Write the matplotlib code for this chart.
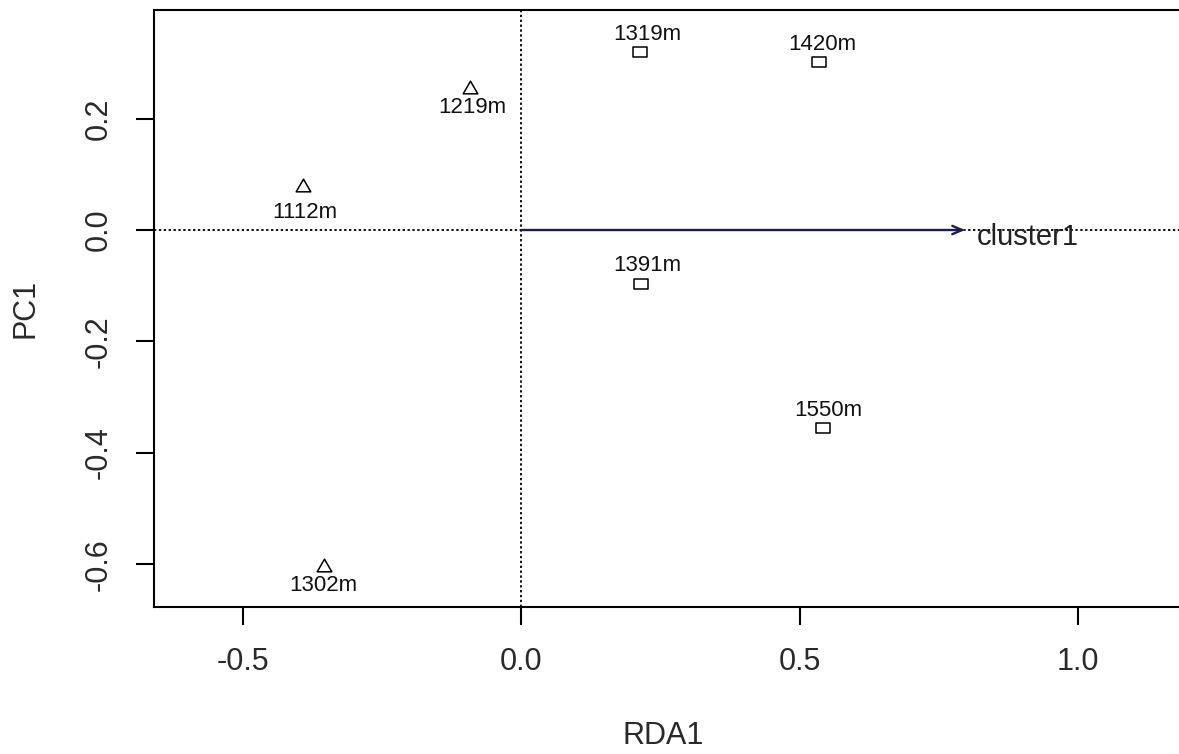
import matplotlib
matplotlib.use("Agg")
import matplotlib.pyplot as plt
from matplotlib.path import Path

plt.rcParams["font.family"] = ["Liberation Sans", "DejaVu Sans"]
plt.rcParams["axes.unicode_minus"] = False

# site scores (RDA1, PC1)
sites = ["1112m", "1219m", "1302m", "1319m", "1420m", "1391m", "1550m"]
rda1 = [-0.392, -0.092, -0.355, 0.213, 0.535, 0.215, 0.542]
pc1 = [0.080, 0.257, -0.602, 0.320, 0.302, -0.097, -0.356]
group = ["tri", "tri", "tri", "sq", "sq", "sq", "sq"]

# biplot arrow
arrow_name = "cluster1"
arrow_x = 0.797
arrow_y = 0.0

xticks = [-0.5, 0.0, 0.5, 1.0]
yticks = [-0.6, -0.4, -0.2, 0.0, 0.2]

# label offsets in pixels (dx, dy)
label_off = [(2, -27), (2, -21), (0, -20), (7, 17), (3, 17), (6, 19), (5, 18)]

W, H = 1179, 754
fig = plt.figure(figsize=(W / 100, H / 100), dpi=100)
ax = fig.add_axes([154 / W, 1 - 607 / H, 1027 / W, 597 / H])
ax.set_xlim(-0.66, 1.185)
ax.set_ylim(-0.6765, 0.3948)

tri = Path([(0, 0.5), (-0.577, -0.5), (0.577, -0.5), (0, 0.5)], closed=True)
sq = Path([(-1, -0.75), (1, -0.75), (1, 0.75), (-1, 0.75), (-1, -0.75)], closed=True)

ax.axvline(0, color="black", lw=1.3, ls=(0, (1.3, 1.4)), zorder=1)
ax.axhline(0, color="black", lw=1.3, ls=(0, (1.3, 1.4)), zorder=1)

for x, y, g in zip(rda1, pc1, group):
    if g == "tri":
        ax.plot(x, y, marker=tri, ms=10.5, mfc="none", mec="black", mew=1.1, ls="none")
    else:
        ax.plot(x, y, marker=sq, ms=10, mfc="none", mec="black", mew=1.1, ls="none")

for name, x, y, (dx, dy) in zip(sites, rda1, pc1, label_off):
    ax.annotate(name, (x, y), xytext=(dx, dy), textcoords="offset pixels",
                ha="center", va="center", fontsize=16, color="#111111")

ax.annotate("", xy=(arrow_x, arrow_y), xytext=(0, 0),
            arrowprops=dict(arrowstyle="->,head_length=0.35,head_width=0.15",
                            color="#1c1c4e", lw=1.7, shrinkA=0, shrinkB=0,
                            mutation_scale=20))
ax.text(0.909, -0.027, arrow_name, ha="center", va="baseline",
        fontsize=21, color="#222222")

ax.spines["right"].set_visible(False)
for s in ["left", "bottom", "top"]:
    ax.spines[s].set_linewidth(1.5)

ax.set_xticks(xticks)
ax.set_xticklabels([f"{t:.1f}" for t in xticks])
ax.set_yticks(yticks)
ax.set_yticklabels([f"{t:.1f}" for t in yticks], rotation=90, va="center")
ax.tick_params(axis="both", length=13, width=1.5, labelsize=22, color="black",
               labelcolor="#2a2a2a")
ax.tick_params(axis="x", pad=16)
ax.tick_params(axis="y", pad=16)

ax.set_xlabel("RDA1", fontsize=22, color="#2a2a2a", va="center")
ax.xaxis.set_label_coords((663.5 - 154) / 1027, -(736.5 - 607) / 597)
ax.set_ylabel("PC1", fontsize=22, color="#2a2a2a", va="center")
ax.yaxis.set_label_coords((26 - 154) / 1027, 0.5)

fig.savefig("out.png", dpi=100)
